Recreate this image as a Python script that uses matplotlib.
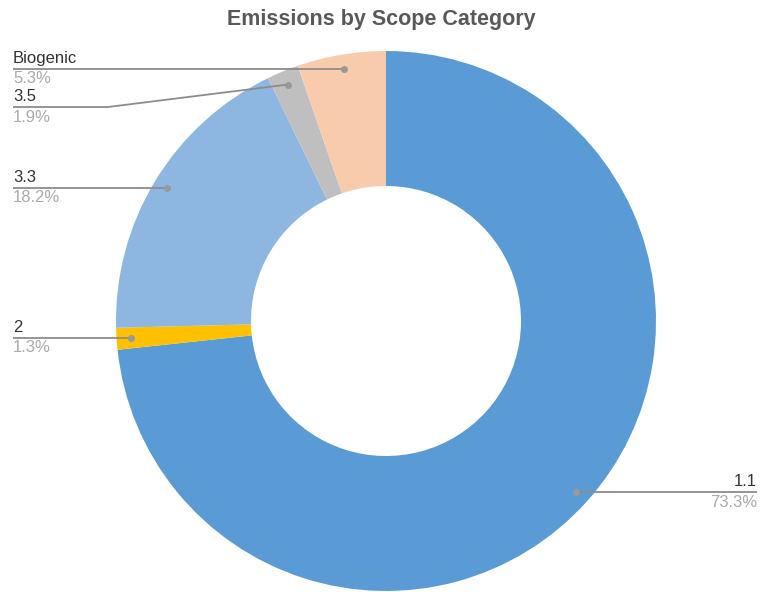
import matplotlib.pyplot as plt
import numpy as np

plt.rcParams['font.family'] = ['Liberation Sans', 'DejaVu Sans']

categories = ["1.1", "2", "3.3", "3.5", "Biogenic"]
shares = [73.3, 1.3, 18.2, 1.9, 5.3]
colors = ["#5B9BD5", "#FFC000", "#8DB7E1", "#BFBFBF", "#F8CBAD"]

W, H = 763, 592
cx, cy, R = 386, H - 321, 270

fig = plt.figure(figsize=(W / 100, H / 100), dpi=100)
ax = fig.add_axes([0, 0, 1, 1])

ax.pie(shares, colors=colors, startangle=90, counterclock=False,
       center=(cx, cy), radius=R, wedgeprops=dict(width=R * 0.5, linewidth=0),
       frame=True)
ax.set_xlim(0, W)
ax.set_ylim(0, H)
ax.set_aspect("equal")
ax.axis("off")

# label layout: (side, elbow point in px or None)
layout = {
    "1.1": ("right", None),
    "2": ("left", None),
    "3.3": ("left", None),
    "3.5": ("left", (108, 107)),
    "Biogenic": ("left", None),
}

total = sum(shares)
cum = 0.0
for name, val in zip(categories, shares):
    mid = (cum + val / 2) / total * 360.0
    cum += val
    ang = np.deg2rad(90 - mid)
    px = cx + 0.948 * R * np.cos(ang)
    py = cy + 0.948 * R * np.sin(ang)
    side, elbow = layout[name]
    if side == "left":
        xe, ha = 13, "left"
    else:
        xe, ha = 757, "right"
    if elbow is not None:
        ly = H - elbow[1]
        xs = [px, elbow[0], xe]
        ys = [py, ly, ly]
    else:
        ly = py
        xs = [px, xe]
        ys = [py, ly]
    ax.plot(xs, ys, color="#8C8C8C", lw=1.3, solid_capstyle="butt", zorder=3)
    ax.plot(px, py, "o", color="#999999", ms=4, zorder=4)
    ax.text(xe, ly + 3, name, ha=ha, va="bottom", fontsize=12, color="#333333")
    ax.text(xe, ly - 2.5, "%.1f%%" % val, ha=ha, va="top", fontsize=12, color="#AAAAAA")

ax.text(W / 2, H - 19, "Emissions by Scope Category", ha="center", va="center",
        fontsize=15.5, fontweight="bold", color="#595959")

fig.savefig("out.png", dpi=100)
